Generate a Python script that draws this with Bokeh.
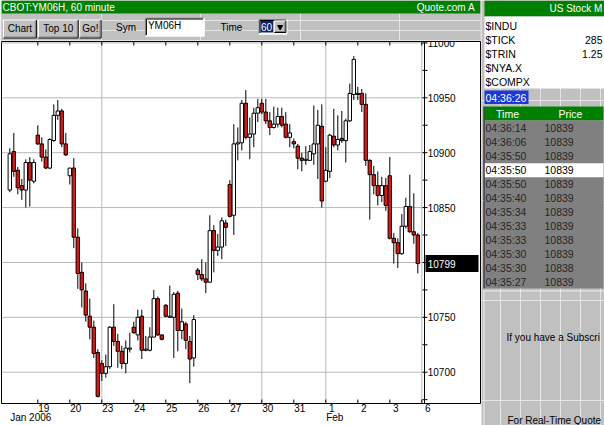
import numpy as np
from bokeh.plotting import figure
from bokeh.layouts import row, column
from bokeh.models import Range1d, FixedTicker, LinearAxis, ColumnDataSource
from bokeh.embed import file_html
from bokeh.resources import INLINE
from bokeh.core.properties import value

FONT = "Liberation Sans"
RED = "#dc1414"
GREEN = "#008000"
GRAY = "#c0c0c0"
DARK = "#808080"
GRID = "#b8b8b8"

# ---------------- data (60-minute bars, YM06H) ----------------
bar_open = [10866, 10901, 10884, 10870, 10866, 10891, 10874,
            10916, 10908, 10896, 10886, 10911, 10934, 10938, 10908,
            10879, 10886, 10823, 10791, 10774, 10751, 10741, 10718,
            10708, 10699, 10705, 10741, 10728, 10719, 10708, 10721,
            10741, 10734, 10751, 10720, 10720, 10732, 10767, 10734,
            10761, 10750, 10750, 10772, 10738, 10744, 10728, 10713,
            10793, 10789, 10785, 10782, 10829, 10811, 10814, 10836,
            10871, 10843, 10908, 10909, 10945, 10914, 10917, 10936,
            10945, 10937, 10929, 10923, 10926, 10933, 10926, 10914,
            10910, 10906, 10895, 10893, 10893, 10899, 10908, 10924,
            10874, 10883, 10915, 10907, 10913, 10911, 10929, 10953,
            10954, 10954, 10944, 10893, 10880, 10870, 10861, 10870,
            10879, 10822, 10818, 10808, 10833, 10851, 10828, 10825]
bar_high = [10904, 10918, 10887, 10876, 10894, 10896, 10894,
            10925, 10914, 10903, 10913, 10944, 10948, 10940, 10918,
            10886, 10895, 10831, 10800, 10781, 10767, 10747, 10721,
            10711, 10716, 10742, 10762, 10735, 10724, 10729, 10736,
            10746, 10757, 10757, 10733, 10741, 10775, 10769, 10734,
            10762, 10779, 10773, 10774, 10758, 10746, 10733, 10752,
            10795, 10803, 10800, 10843, 10834, 10826, 10841, 10839,
            10875, 10926, 10923, 10948, 10957, 10932, 10941, 10949,
            10949, 10949, 10937, 10942, 10941, 10941, 10937, 10926,
            10913, 10908, 10900, 10906, 10907, 10943, 10939, 10944,
            10905, 10917, 10940, 10934, 10938, 10931, 10963, 10988,
            10960, 10958, 10954, 10894, 10888, 10883, 10878, 10877,
            10896, 10827, 10822, 10844, 10859, 10880, 10863, 10827]
bar_low = [10864, 10878, 10862, 10857, 10850, 10851, 10872,
           10907, 10892, 10885, 10885, 10910, 10930, 10905, 10897,
           10871, 10813, 10776, 10759, 10746, 10730, 10713, 10677,
           10692, 10695, 10703, 10724, 10704, 10703, 10699, 10718,
           10735, 10729, 10712, 10719, 10719, 10732, 10733, 10729,
           10750, 10750, 10713, 10719, 10730, 10721, 10690, 10705,
           10784, 10783, 10772, 10782, 10791, 10806, 10803, 10815,
           10841, 10825, 10893, 10902, 10912, 10894, 10905, 10928,
           10935, 10926, 10916, 10922, 10923, 10923, 10913, 10905,
           10904, 10885, 10883, 10889, 10893, 10889, 10876, 10850,
           10873, 10877, 10905, 10902, 10909, 10891, 10928, 10948,
           10948, 10937, 10888, 10839, 10862, 10852, 10855, 10847,
           10821, 10799, 10795, 10807, 10831, 10827, 10817, 10790]
bar_close = [10899, 10883, 10868, 10866, 10891, 10875, 10891,
             10908, 10896, 10886, 10912, 10934, 10938, 10908, 10898,
             10886, 10823, 10790, 10775, 10752, 10741, 10717, 10678,
             10699, 10705, 10741, 10728, 10719, 10708, 10722, 10722,
             10736, 10750, 10720, 10721, 10732, 10767, 10734, 10730,
             10751, 10751, 10771, 10738, 10746, 10729, 10712, 10748,
             10789, 10785, 10782, 10829, 10811, 10814, 10838, 10832,
             10842, 10908, 10909, 10945, 10914, 10917, 10936, 10941,
             10937, 10929, 10923, 10926, 10933, 10925, 10914, 10918,
             10908, 10895, 10893, 10894, 10901, 10908, 10925, 10856,
             10884, 10916, 10907, 10912, 10911, 10929, 10954, 10985,
             10953, 10944, 10893, 10880, 10870, 10861, 10870, 10852,
             10822, 10818, 10808, 10833, 10851, 10828, 10825, 10799]

day_start_bars = [7, 15, 23, 31, 39, 47, 55, 63, 71, 79, 87, 95, 103]
day_labels = ["19", "20", "23", "24", "25", "26", "27", "30", "31", "1", "2", "3", "6"]
week_start_bars = [23, 63, 79, 103]
month_labels = ["Jan 2006", "Feb"]
month_label_bars = [5.25, 81.25]
price_ticks = [10700, 10750, 10800, 10850, 10900, 10950, 11000]
price_labels = ["10700", "10750", "10800", "10850", "10900", "10950", "11000"]
last_price = 10799

quote_symbols = ["$INDU", "$TICK", "$TRIN", "$NYA.X", "$COMPX"]
quote_values = ["", "285", "1.25", "", ""]
clock_text = "04:36:26"
tick_times = ["04:36:14", "04:36:06", "04:35:50", "04:35:50", "04:35:50", "04:35:40",
              "04:35:34", "04:35:33", "04:35:33", "04:35:30", "04:35:30", "04:35:27"]
tick_prices = [10839, 10839, 10839, 10839, 10839, 10839,
               10839, 10839, 10838, 10839, 10838, 10839]
selected_row = 3


def txt(fig, xs, ys, texts, color="black", size="10px", align="left"):
    fig.text(x=xs, y=ys, text=texts, text_font=value(FONT), text_font_size=size,
             text_color=color, text_baseline="middle", text_align=align)


def raised(fig, l, r, t, b):
    fig.quad(left=l, right=r, top=t, bottom=b, fill_color=GRAY, line_color=None)
    fig.segment(x0=[l + .5, l + .5], y0=[t + .5, t + .5], x1=[r - .5, l + .5], y1=[t + .5, b - .5],
                line_color="white", line_width=1)
    fig.segment(x0=[l + .5, r - .5], y0=[b - .5, t + .5], x1=[r - .5, r - .5], y1=[b - .5, b - .5],
                line_color="black", line_width=1)
    fig.segment(x0=[l + 1.5, r - 1.5], y0=[b - 1.5, t + 1.5], x1=[r - 1.5, r - 1.5], y1=[b - 1.5, b - 1.5],
                line_color=DARK, line_width=1)


def sunken(fig, l, r, t, b, fill="white"):
    fig.quad(left=l, right=r, top=t, bottom=b, fill_color=fill, line_color=None)
    fig.segment(x0=[l + .5, l + .5], y0=[t + .5, t + .5], x1=[r - .5, l + .5], y1=[t + .5, b - .5],
                line_color=DARK, line_width=1)
    fig.segment(x0=[l + 1.5, l + 1.5], y0=[t + 1.5, t + 1.5], x1=[r - 1.5, l + 1.5], y1=[t + 1.5, b - 1.5],
                line_color="black", line_width=1)
    fig.segment(x0=[l + .5, r - .5], y0=[b - .5, t + .5], x1=[r - .5, r - .5], y1=[b - .5, b - .5],
                line_color="white", line_width=1)


def panel(w, h, xr, yr):
    f = figure(width=w, height=h, x_range=Range1d(*xr), y_range=Range1d(*yr),
               output_backend="svg", toolbar_location=None, x_axis_location=None,
               y_axis_location=None, min_border=0, outline_line_color=None,
               background_fill_color=GRAY, border_fill_color=GRAY)
    return f


# ---------------- header (title bar + toolbar) ----------------
hdr = panel(481, 41, (0, 481), (41, 0))
hdr.quad(left=0, right=481, top=0, bottom=13, fill_color=GREEN, line_color=None)
txt(hdr, [1], [6.8], ["CBOT:YM06H, 60 minute"], color="white")
txt(hdr, [417], [6.8], ["Quote.com A"], color="white")
for name, l, r in [("Chart", 1.5, 35.5), ("Top 10", 36.5, 77.5), ("Go!", 78, 100.5)]:
    raised(hdr, l, r, 19, 38)
    txt(hdr, [(l + r) / 2], [28], [name], align="center")
txt(hdr, [115, 220], [27, 27], ["Sym", "Time"])
sunken(hdr, 144, 204, 17, 36)
txt(hdr, [147], [24.5], ["YM06H"])
sunken(hdr, 258, 287, 18.5, 34)
hdr.quad(left=260, right=273, top=20.5, bottom=32, fill_color="#0a246a", line_color=None)
txt(hdr, [260.5], [26.5], ["60"], color="white")
raised(hdr, 273.5, 286, 20, 32.5)
hdr.scatter(x=[279.8], y=[26.5], marker="inverted_triangle", size=5, fill_color="black",
            line_color="black")

# ---------------- chart ----------------
PX_PER_BAR = 4.0
X0 = -2.075
X1 = X0 + 479 / PX_PER_BAR          # frame: ref x 1 .. 480
AXIS_X = X0 + 423 / PX_PER_BAR      # price axis line at ref x 424
FRAME_H = 362
Y1 = 11001.3
Y0 = 10671.5
pxpt = FRAME_H / (Y1 - Y0)

o = np.array(bar_open, float)
h = np.array(bar_high, float)
lo = np.array(bar_low, float)
c = np.array(bar_close, float)
idx = np.arange(len(o))
src = ColumnDataSource(dict(x=idx, high=h, low=lo, top=np.maximum(o, c), bottom=np.minimum(o, c),
                            fill=np.where(c >= o, "white", RED)))

p = figure(width=481, height=384, x_range=Range1d(X0, X1), y_range=Range1d(Y0, Y1),
           output_backend="svg", toolbar_location=None, y_axis_location=None,
           min_border_left=1, min_border_right=1, min_border_top=0, min_border_bottom=22,
           background_fill_color="white", border_fill_color="white",
           outline_line_color="black", outline_line_width=1)
p.grid.visible = False

# row 1 of the time axis: day numbers
p.xaxis.ticker = FixedTicker(ticks=[d + 1.5 for d in day_start_bars])
p.xaxis.major_label_overrides = {d + 1.5: lab for d, lab in zip(day_start_bars, day_labels)}
p.xaxis.major_label_text_font = FONT
p.xaxis.major_label_text_font_size = "10px"
p.xaxis.major_label_text_color = "black"
p.xaxis.major_tick_line_color = None
p.xaxis.minor_tick_line_color = None
p.xaxis.major_tick_out = 0
p.xaxis.major_tick_in = 0
p.xaxis.minor_tick_out = 0
p.xaxis.minor_tick_in = 0
p.xaxis.axis_line_color = None
p.xaxis.major_label_standoff = 0
# row 2: month labels
ax2 = LinearAxis(ticker=FixedTicker(ticks=month_label_bars),
                 major_label_overrides={b: m for b, m in zip(month_label_bars, month_labels)},
                 major_label_text_font=FONT, major_label_text_font_size="10px",
                 major_label_text_color="black", major_tick_line_color=None,
                 minor_tick_line_color=None, major_tick_out=0, major_tick_in=0,
                 minor_tick_out=0, minor_tick_in=0, axis_line_color=None,
                 major_label_standoff=-3)
p.add_layout(ax2, "below")

# grid lines (chart area only, left of the price axis)
p.segment(x0=[X0] * len(price_ticks), y0=price_ticks, x1=[AXIS_X] * len(price_ticks),
          y1=price_ticks, line_color=GRID, line_width=1)
p.segment(x0=week_start_bars, y0=[Y0] * len(week_start_bars), x1=week_start_bars,
          y1=[Y1] * len(week_start_bars), line_color=GRID, line_width=1)

# day tick marks on top and bottom edges
tl = 4 / pxpt
nd = len(day_start_bars)
p.segment(x0=day_start_bars, y0=[Y1] * nd, x1=day_start_bars, y1=[Y1 - tl] * nd,
          line_color="black", line_width=1)
p.segment(x0=day_start_bars, y0=[Y0] * nd, x1=day_start_bars, y1=[Y0 + tl] * nd,
          line_color="black", line_width=1)

# price axis: line, ticks (50 major, 25 minor) and labels
p.segment(x0=[AXIS_X], y0=[Y0], x1=[AXIS_X], y1=[Y1], line_color="black", line_width=1)
all_ticks = sorted(price_ticks + [t - 25 for t in price_ticks])
p.segment(x0=[AXIS_X - 0.5] * len(all_ticks), y0=all_ticks,
          x1=[AXIS_X + 0.75] * len(all_ticks), y1=all_ticks, line_color="black", line_width=1)
txt(p, [AXIS_X + 0.8] * len(price_ticks), price_ticks, price_labels)

# candles
p.segment(x0="x", y0="low", x1="x", y1="high", source=src, line_color="black", line_width=1)
p.vbar(x="x", width=0.85, top="top", bottom="bottom", source=src, fill_color="fill",
       line_color="black", line_width=1)

# last price box
bh = 8.5 / pxpt
p.quad(left=[AXIS_X + 0.25], right=[AXIS_X + 13.5], top=[last_price + bh], bottom=[last_price - bh],
       fill_color="black", line_color=None)
txt(p, [AXIS_X + 0.8], [last_price], [str(last_price)], color="white")

# ---------------- right panel ----------------
rp = panel(123, 425, (481, 604), (425, 0))
rp.quad(left=484, right=604, top=0, bottom=16, fill_color=GREEN, line_color=None)
txt(rp, [549], [8], ["US Stock M"], color="white")
rp.quad(left=484, right=604, top=16, bottom=88, fill_color="white", line_color=None)
row_y = [25, 39, 53, 67, 81]
txt(rp, [485] * 5, row_y, quote_symbols, size="10.5px")
txt(rp, [602] * 5, row_y, quote_values, size="10.5px", align="right")
rp.quad(left=484, right=528, top=90, bottom=103.5, fill_color="#1a3ad8", line_color=None)
txt(rp, [485], [97], [clock_text], color="white", size="10.5px")
rp.quad(left=484, right=603, top=106, bottom=120, fill_color=GREEN, line_color=None)
txt(rp, [507, 570], [113.5, 113.5], ["Time", "Price"], color="white", size="10.5px",
    align="center")
rp.quad(left=484, right=603, top=120, bottom=288, fill_color=DARK, line_color=None)
ty = [127.7 + 14 * i for i in range(len(tick_times))]
rp.quad(left=484, right=603, top=ty[selected_row] - 7, bottom=ty[selected_row] + 7,
        fill_color="white", line_color=None)
rp.segment(x0=[483.5], y0=[106], x1=[483.5], y1=[288], line_color="black", line_width=1)
rp.segment(x0=[483], y0=[290.5], x1=[604], y1=[290.5], line_color="#eeeeee", line_width=1)
rp.segment(x0=[483.5], y0=[290], x1=[483.5], y1=[425], line_color="#eeeeee", line_width=1)
tcol = ["black" if i == selected_row else "#262626" for i in range(len(tick_times))]
txt(rp, [485] * len(ty), ty, tick_times, color=tcol, size="10.5px")
txt(rp, [544] * len(ty), ty, [str(v) for v in tick_prices], color=tcol, size="10.5px")
txt(rp, [506, 507], [337, 420], ["If you have a Subscri", "For Real-Time Quote"])

layout = row(column(hdr, p, spacing=0), rp, spacing=0)
open("out.html", "w").write(file_html(layout, INLINE))
